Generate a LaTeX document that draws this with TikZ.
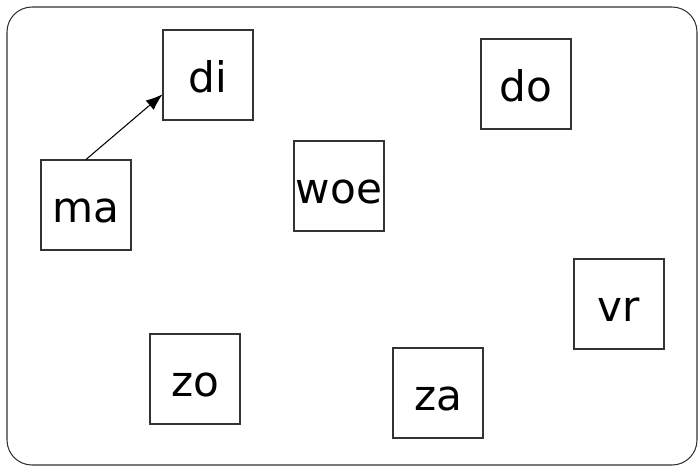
\documentclass[tikz,border=0pt]{standalone}
\usepackage{fontspec}
\setmainfont{DejaVu Sans}
\usetikzlibrary{arrows.meta}

\tikzset{
  word/.style={draw=black!80, line width=0.6pt, inner sep=0pt, minimum width=1.8cm, minimum height=1.8cm,
    text height=0.68cm, text depth=0pt, font=\fontsize{24}{28}\selectfont},
}

\begin{document}
\begin{tikzpicture}[x=0.02cm, y=-0.02cm]
      \useasboundingbox (0,0) rectangle (700,468);
      \draw[black!80, line width=0.6pt, rounded corners=0.5cm] (7,7) rectangle (697,465);

      \node[word] (di) at (208,75) {di};
      \node[word] (ma) at (86,205) {ma};
      \node[word] (woe) at (339,186) {woe};
      \node[word] (do) at (526,84) {do};
      \node[word] (vr) at (619,304) {vr};
      \node[word] (zo) at (195,379) {zo};
      \node[word] (za) at (438,393) {za};

      \draw[-{Latex[length=9.5pt, width=7pt]}, line width=0.6pt] (ma.north) -- (di.203);
    \end{tikzpicture}
\end{document}
